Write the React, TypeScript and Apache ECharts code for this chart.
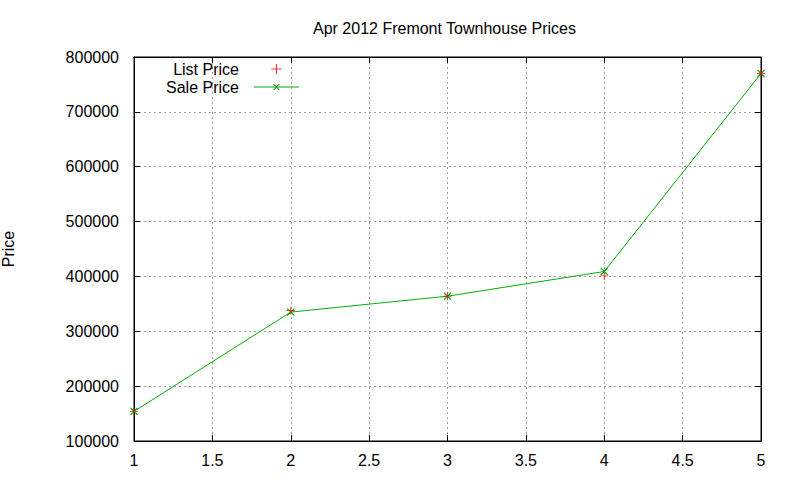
import React, { useEffect, useRef } from 'react';
import * as echarts from 'echarts';

// x positions (listing index) and prices
const xValues = [1, 2, 3, 4, 5];
const listPrices = [154000, 338000, 364000, 401000, 770000];
const salePrices = [154000, 335000, 364000, 409000, 770000];

const FONT = "'Liberation Sans', Arial, sans-serif";
const FONT_SIZE = 16;
const PLUS = 'path://M4,0H5V4H9V5H5V9H4V5H0V4H4Z';

const App: React.FC = () => {
  const chartRef = useRef<HTMLDivElement>(null);

  useEffect(() => {
    document.body.style.margin = '0';
    if (!chartRef.current) return;
    const chart = echarts.init(chartRef.current, undefined, { renderer: 'svg' });

    const axisCommon = {
      type: 'value' as const,
      axisLine: { show: true, lineStyle: { color: '#000', width: 1 } },
      axisTick: { show: true, inside: true, length: 6, lineStyle: { color: '#000' } },
    };

    const options = {
      animation: false,
      backgroundColor: '#fff',
      title: {
        text: 'Apr 2012 Fremont Townhouse Prices',
        left: 313,
        top: 20,
        padding: 0,
        textStyle: { fontFamily: FONT, fontSize: FONT_SIZE, fontWeight: 'normal', color: '#000' },
      },
      legend: {
        data: ['List Price', 'Sale Price'],
        orient: 'vertical',
        align: 'right',
        left: 161,
        top: 56,
        itemWidth: 45,
        itemHeight: 10,
        itemGap: 2,
        lineStyle: { width: 1 },
        textStyle: {
          fontFamily: FONT,
          fontSize: FONT_SIZE,
          color: '#000',
          width: 78,
          align: 'right',
          padding: [0, 10, 0, 0],
        },
      },
      grid: {
        left: 134,
        right: 39,
        top: 57,
        bottom: 39,
        outerBoundsMode: 'none',
        containLabel: false,
        show: true,
        borderColor: '#000',
        borderWidth: 1,
      },
      xAxis: [
        {
          ...axisCommon,
          min: 1,
          max: 5,
          interval: 0.5,
          axisLabel: {
            margin: 11,
            fontFamily: FONT,
            fontSize: FONT_SIZE,
            color: '#000',
            formatter: (v: number) => String(v),
          },
          splitLine: { show: true, lineStyle: { color: '#a0a0a0', type: [2, 3] } },
        },
        {
          ...axisCommon,
          position: 'top',
          min: 1,
          max: 5,
          interval: 0.5,
          axisLabel: { show: false },
          splitLine: { show: false },
        },
      ],
      yAxis: [
        {
          ...axisCommon,
          min: 100000,
          max: 800000,
          interval: 100000,
          name: 'Price',
          nameLocation: 'middle',
          nameGap: 118,
          nameTextStyle: { fontFamily: FONT, fontSize: FONT_SIZE, color: '#000' },
          axisLabel: {
            margin: 15,
            fontFamily: FONT,
            fontSize: FONT_SIZE,
            color: '#000',
            formatter: (v: number) => String(v),
          },
          splitLine: { show: true, lineStyle: { color: '#a0a0a0', type: [2, 3] } },
        },
        {
          ...axisCommon,
          position: 'right',
          min: 100000,
          max: 800000,
          interval: 100000,
          axisLabel: { show: false },
          splitLine: { show: false },
        },
      ],
      series: [
        {
          name: 'Sale Price',
          type: 'line',
          data: xValues.map((x, i) => [x, salePrices[i]]),
          symbol: PLUS,
          symbolRotate: 45,
          symbolSize: 10,
          showSymbol: true,
          color: '#00b000',
          lineStyle: { width: 1, color: '#00b000' },
          itemStyle: { color: '#00a000' },
        },
        {
          name: 'List Price',
          type: 'scatter',
          data: xValues.map((x, i) => [x, listPrices[i]]),
          symbol: PLUS,
          symbolSize: 8,
          color: '#ff0000',
          itemStyle: { color: '#ff0000' },
          z: 3,
        },
      ],
    };

    chart.setOption(options);

    return () => {
      chart.dispose();
    };
  }, []);

  return <div ref={chartRef} style={{ width: '800px', height: '480px' }} />;
};

export default App;
